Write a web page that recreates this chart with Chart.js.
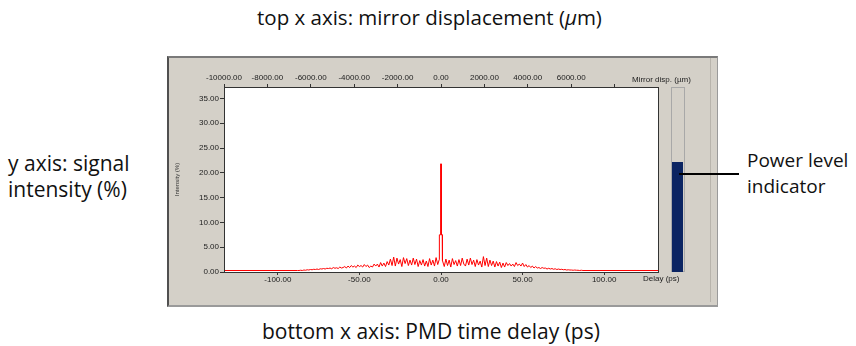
<!DOCTYPE html>
<html>
<head>
<meta charset="utf-8">
<script src="https://cdn.jsdelivr.net/npm/chart.js@4"></script>
<style>
  body { margin: 0; width: 856px; height: 346px; background: #fff; position: relative; overflow: hidden; font-family: "Open Sans", sans-serif; }
  .note { position: absolute; font-size: 21px; color: #111; line-height: 26px; white-space: nowrap; }
  .panel { position: absolute; left: 167px; top: 56px; width: 548px; height: 247px; background: #d4d0c8;
           border-left: 2px solid #505050; border-top: 2px solid #7a7a7a; border-right: 1px solid #9a9a9a; border-bottom: 2px solid #9a9a9a; }
  .inner { position: absolute; left: 710px; top: 58px; width: 1px; height: 244px; background: #b8b4ac; }
  .axisnote { position: absolute; font: 8px "Liberation Sans", Arial, sans-serif; color: #222; white-space: nowrap; }
  .powerframe { position: absolute; left: 671px; top: 87px; width: 12px; height: 183px; border: 1px solid #a8a8a8; background: #d4d0c8; }
  canvas { position: absolute; }
  .callout { position: absolute; left: 679px; top: 173px; width: 60px; height: 2px; background: #000; }
</style>
</head>
<body>
<div class="note" style="left:257px; top:4px; font-size:20.5px;">top x axis: mirror displacement (<i>µ</i>m)</div>
<div class="note" style="left:8px; top:150px;">y axis: signal<br>intensity (%)</div>
<div class="note" style="left:747px; top:147px; font-size:19px;">Power level<br>indicator</div>
<div class="note" style="left:262px; top:318px;">bottom x axis: PMD time delay (ps)</div>

<div class="panel"></div>
<div class="inner"></div>
<div class="powerframe"></div>
<canvas id="mainChart" width="856" height="346" style="left:0; top:0;"></canvas>
<canvas id="powerChart" width="11" height="110" style="left:672px; top:162px;"></canvas>
<div class="callout"></div>
<div class="axisnote" style="left:632px; top:75px;">Mirror disp. (µm)</div>
<div class="axisnote" style="left:643px; top:274px;">Delay (ps)</div>

<script>
// tick values
const delayTicks = [-100, -50, 0, 50, 100];
const mirrorTicks = [-10000, -8000, -6000, -4000, -2000, 0, 2000, 4000, 6000, 8000];
const mirrorLabelled = [-10000, -8000, -6000, -4000, -2000, 0, 2000, 4000, 6000];
const intensityTicks = [0, 5, 10, 15, 20, 25, 30, 35];

// trace: delay (ps) and intensity (%)
const delayPs = [
  -133, -88,
  -87, -86, -85, -84, -83, -82, -81, -80,
  -79, -78, -77, -76, -75, -74, -73, -72, -71, -70,
  -69, -68, -67, -66, -65, -64, -63, -62, -61, -60,
  -59, -58, -57, -56, -55, -54, -53, -52, -51, -50,
  -49, -48, -47, -46, -45, -44, -43, -42, -41, -40,
  -39, -38, -37, -36, -35, -34, -33, -32, -31, -30,
  -29, -28, -27, -26, -25, -24, -23, -22, -21, -20,
  -19, -18, -17, -16, -15, -14, -13, -12, -11, -10,
  -9, -8, -7, -6, -5, -4, -3, -2, -1.1,
  -1.0, -0.3, -0.2, 0.1, 0.2, 0.8,
  0.9, 2, 3, 4, 5, 6, 7, 8, 9, 10,
  11, 12, 13, 14, 15, 16, 17, 18, 19, 20,
  21, 22, 23, 24, 25, 26, 27, 28, 29, 30,
  31, 32, 33, 34, 35, 36, 37, 38, 39, 40,
  41, 42, 43, 44, 45, 46, 47, 48, 49, 50,
  51, 52, 53, 54, 55, 56, 57, 58, 59, 60,
  61, 62, 63, 64, 65, 66, 67, 68, 69, 70,
  71, 72, 73, 74, 75, 76, 77, 78, 79, 80,
  81, 82, 83, 84, 85, 86, 87,
  133
];
const intensityPct = [
  0.3, 0.3,
  0.3, 0.35, 0.3, 0.4, 0.35, 0.45, 0.4, 0.5,
  0.45, 0.55, 0.5, 0.6, 0.5, 0.65, 0.6, 0.7, 0.6, 0.75,
  0.7, 0.8, 0.65, 0.9, 0.75, 0.85, 0.7, 1.0, 0.8, 0.9,
  1.1, 0.8, 1.2, 0.9, 1.3, 1.0, 1.2, 0.9, 1.4, 1.1,
  1.3, 1.0, 1.5, 1.1, 1.4, 0.9, 1.2, 1.0, 1.6, 1.2,
  1.6, 1.0, 1.9, 1.2, 1.8, 1.1, 2.1, 1.4, 2.6, 1.3,
  3.0, 1.2, 2.8, 1.6, 2.5, 1.1, 2.9, 1.7, 2.7, 1.3,
  2.4, 1.4, 2.8, 1.5, 2.6, 1.1, 2.3, 1.4, 2.5, 1.2,
  2.2, 1.1, 2.7, 1.4, 2.4, 1.2, 2.9, 1.5, 2.5,
  7.5, 7.5, 21.8, 21.8, 7.5, 7.5,
  2.3, 1.1, 2.6, 1.3, 2.4, 1.0, 2.7, 1.5, 2.3, 1.2,
  2.5, 1.3, 2.8, 1.6, 1.2, 2.6, 1.4, 2.8, 1.5, 2.4,
  1.1, 2.5, 1.4, 2.2, 1.0, 3.1, 1.3, 2.8, 1.1, 2.4,
  1.3, 2.2, 1.0, 2.1, 1.2, 2.0, 0.9, 1.8, 1.0, 1.9,
  1.3, 1.7, 1.2, 1.6, 1.1, 1.9, 1.3, 1.6, 1.2, 1.8,
  1.1, 1.5, 1.0, 1.3, 0.9, 1.2, 0.8, 1.1, 0.8, 0.9,
  0.7, 0.9, 0.75, 0.8, 0.6, 0.75, 0.6, 0.7, 0.55, 0.65,
  0.5, 0.6, 0.5, 0.55, 0.45, 0.5, 0.4, 0.45, 0.4, 0.4,
  0.35, 0.4, 0.35, 0.35, 0.3, 0.35, 0.3,
  0.3
];

// power level indicator (%)
const powerLabels = ['power'];
const powerLevel = [100];

const tickFont = { family: 'Liberation Sans', size: 8 };

const plotFrame = {
  id: 'plotFrame',
  beforeDatasetsDraw(c) {
    const a = c.chartArea, ctx = c.ctx;
    ctx.save();
    ctx.fillStyle = '#fff';
    ctx.fillRect(a.left, a.top, a.right - a.left, a.bottom - a.top);
    ctx.restore();
  },
  afterDraw(c) {
    const a = c.chartArea, ctx = c.ctx;
    ctx.save();
    ctx.strokeStyle = '#333';
    ctx.lineWidth = 1;
    ctx.strokeRect(a.left + 0.5, a.top + 0.5, a.right - a.left, a.bottom - a.top);
    ctx.restore();
  }
};

new Chart(document.getElementById('mainChart'), {
  type: 'line',
  data: {
    datasets: [{
      data: delayPs.map((d, i) => ({ x: d, y: intensityPct[i] })),
      borderColor: '#ff0000',
      borderWidth: 1,
      pointRadius: 0,
      tension: 0
    }]
  },
  options: {
    responsive: false,
    animation: false,
    layout: { padding: { left: 170, right: 198, top: 60, bottom: 54 } },
    plugins: { legend: { display: false }, tooltip: { enabled: false } },
    scales: {
      x: {
        type: 'linear', position: 'bottom', min: -133, max: 133,
        afterBuildTicks: s => { s.ticks = delayTicks.map(v => ({ value: v })); },
        afterFit: s => { s.height = 20; },
        ticks: { font: tickFont, color: '#222', padding: 0, maxRotation: 0, callback: v => v.toFixed(2) },
        grid: { drawOnChartArea: false, tickLength: 3, color: '#333' },
        border: { color: '#333' }
      },
      x2: {
        type: 'linear', position: 'top', min: -10000, max: 10000,
        afterBuildTicks: s => { s.ticks = mirrorTicks.map(v => ({ value: v })); },
        afterFit: s => { s.height = 27; },
        ticks: { font: tickFont, color: '#222', padding: 1, maxRotation: 0,
                 callback: v => mirrorLabelled.includes(v) ? v.toFixed(2) : '' },
        grid: { drawOnChartArea: false, tickLength: 3, color: '#333' },
        border: { color: '#333' }
      },
      y: {
        min: 0, max: 37.3,
        afterBuildTicks: s => { s.ticks = intensityTicks.map(v => ({ value: v })); },
        afterFit: s => { s.width = 54; },
        ticks: { font: tickFont, color: '#222', padding: 1, callback: v => v.toFixed(2) },
        grid: { drawOnChartArea: false, tickLength: 4, color: '#333' },
        border: { color: '#333' },
        title: { display: true, text: 'Intensity (%)', font: { family: 'Liberation Sans', size: 6 }, color: '#333', padding: 4 }
      }
    }
  },
  plugins: [plotFrame]
});

new Chart(document.getElementById('powerChart'), {
  type: 'bar',
  data: {
    labels: powerLabels,
    datasets: [{ data: powerLevel, backgroundColor: '#0b2462', barPercentage: 1, categoryPercentage: 1 }]
  },
  options: {
    responsive: false,
    animation: false,
    layout: { padding: 0 },
    plugins: { legend: { display: false }, tooltip: { enabled: false } },
    scales: {
      x: { display: false },
      y: { display: false, min: 0, max: 100 }
    }
  }
});
</script>
</body>
</html>
